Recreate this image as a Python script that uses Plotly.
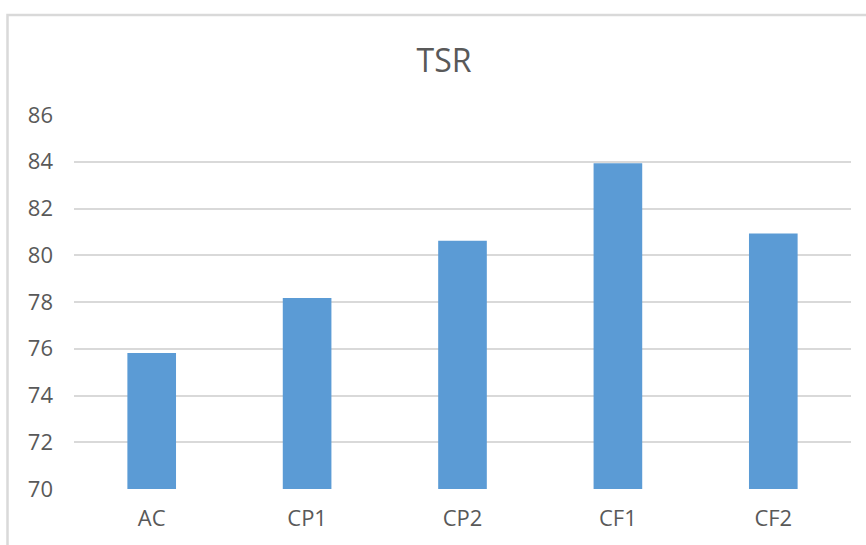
import plotly.graph_objects as go

# TSR score per configuration
categories = ["AC", "CP1", "CP2", "CF1", "CF2"]
tsr_values = [75.82, 78.17, 80.62, 83.94, 80.93]
y_ticks = [70, 72, 74, 76, 78, 80, 82, 84, 86]

W, H = 866, 545
left, right, top, bottom = 74, 851, 115, 489  # plot area in pixels

text_color = "#595959"
grid_color = "#D9D9D9"
bar_color = "#5B9BD5"
font_family = "Open Sans, Liberation Sans, sans-serif"

fig = go.Figure(
    go.Bar(
        x=categories,
        y=tsr_values,
        marker=dict(color=bar_color, line=dict(width=0)),
    )
)

pw, ph = right - left, bottom - top

def px_to_paper_x(px):
    return (px - left) / pw

def px_to_paper_y(py):
    return (bottom - py) / ph

fig.update_layout(
    width=W,
    height=H,
    margin=dict(l=left, r=W - right, t=top, b=H - bottom, pad=0),
    paper_bgcolor="white",
    plot_bgcolor="white",
    bargap=0.687,
    showlegend=False,
    title=dict(
        text="TSR",
        x=444 / W,
        xref="container",
        xanchor="center",
        y=1 - 61 / H,
        yref="container",
        yanchor="middle",
        font=dict(family=font_family, size=32, color=text_color),
    ),
    font=dict(family=font_family, size=22, color=text_color),
    xaxis=dict(
        showgrid=False,
        showline=False,
        ticks="",
        tickfont=dict(size=22, color=text_color),
        ticklabelstandoff=14,
        fixedrange=True,
    ),
    yaxis=dict(
        range=[70, 86],
        tickvals=y_ticks,
        ticktext=[str(v) for v in y_ticks],
        showgrid=True,
        gridcolor=grid_color,
        gridwidth=2,
        zeroline=False,
        showline=False,
        ticks="",
        tickfont=dict(size=22, color=text_color),
        ticklabelstandoff=20,
        fixedrange=True,
    ),
    shapes=[
        # chart frame (extends past the right and bottom edges)
        dict(
            type="rect",
            xref="paper",
            yref="paper",
            x0=px_to_paper_x(7.5),
            x1=px_to_paper_x(W + 20),
            y0=px_to_paper_y(H + 20),
            y1=px_to_paper_y(15),
            line=dict(color=grid_color, width=2.5),
            fillcolor="rgba(0,0,0,0)",
            layer="below",
        ),
    ],
)

fig.write_html("out.html")
